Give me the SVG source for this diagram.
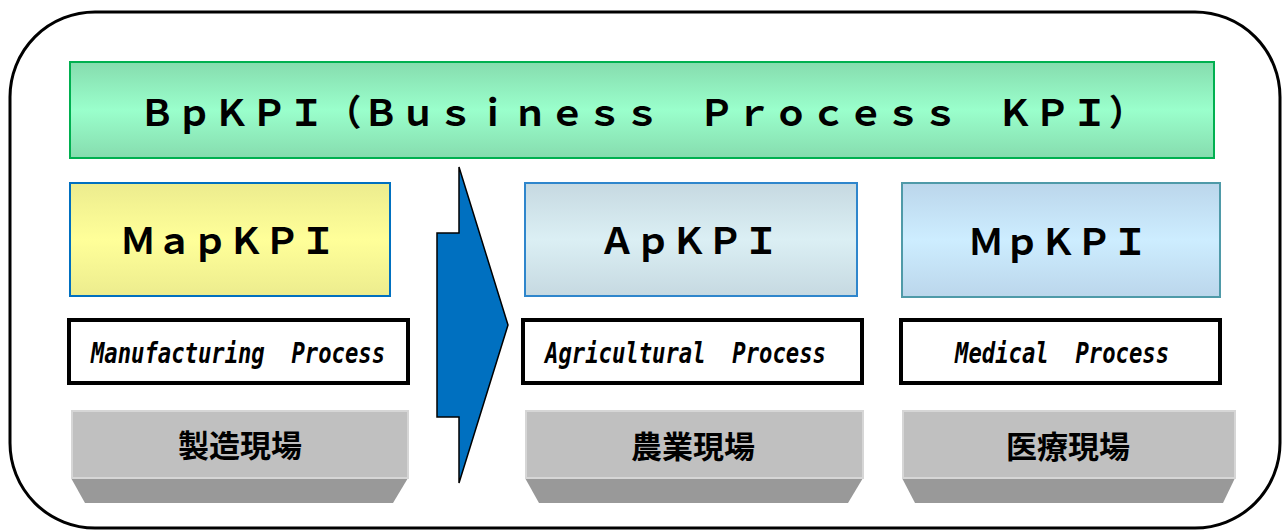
<svg xmlns="http://www.w3.org/2000/svg" width="1286" height="530" viewBox="0 0 1286 530">
<defs>
<linearGradient id="gGreen" x1="0" y1="0" x2="0" y2="1"><stop offset="0" stop-color="#86DCAE"/><stop offset="0.5" stop-color="#9AFFCC"/><stop offset="1" stop-color="#86DCAE"/></linearGradient>
<linearGradient id="gYellow" x1="0" y1="0" x2="0" y2="1"><stop offset="0" stop-color="#ECEC8E"/><stop offset="0.5" stop-color="#FFFF99"/><stop offset="1" stop-color="#ECEC8E"/></linearGradient>
<linearGradient id="gAgri" x1="0" y1="0" x2="0" y2="1"><stop offset="0" stop-color="#C6D9E1"/><stop offset="0.5" stop-color="#DBEFF4"/><stop offset="1" stop-color="#C6D9E1"/></linearGradient>
<linearGradient id="gMed" x1="0" y1="0" x2="0" y2="1"><stop offset="0" stop-color="#BBD6EB"/><stop offset="0.5" stop-color="#CDEDFF"/><stop offset="1" stop-color="#BBD6EB"/></linearGradient>
<style>
.kpi{font-family:"Noto Sans CJK JP","Noto Sans",sans-serif;font-weight:700;font-size:36px;fill:#000}
.proc{fill:#fff;stroke:#000;stroke-width:4}
.ptxt{font-family:"DejaVu Sans Mono","Liberation Mono",monospace;font-weight:700;font-style:italic;font-size:28px;fill:#000;white-space:pre}
.top{fill:#C0C0C0;stroke:#D6D6D6;stroke-width:2}
.bot{fill:#999999}
.jp{font-family:"Noto Sans CJK JP",sans-serif;font-weight:700;font-size:31px;fill:#000;text-anchor:middle}
</style>
</defs>
<rect id="frame" x="10" y="12" width="1270" height="516" rx="85" ry="85" fill="#fff" stroke="#000" stroke-width="3"/>
<g id="bpkpi">
<rect x="70" y="62" width="1144" height="96" fill="url(#gGreen)" stroke="#00B050" stroke-width="2"/>
<text class="kpi" x="139" y="126" letter-spacing="1.3">ＢｐＫＰＩ（Ｂｕｓｉｎｅｓｓ　Ｐｒｏｃｅｓｓ　ＫＰＩ）</text>
</g>
<g id="mapkpi">
<rect x="70" y="183" width="320" height="113" fill="url(#gYellow)" stroke="#0070C0" stroke-width="2"/>
<text class="kpi" x="228" y="254" text-anchor="middle">ＭａｐＫＰＩ</text>
</g>
<g id="apkpi">
<rect x="525" y="183" width="332" height="113" fill="url(#gAgri)" stroke="#2F86CC" stroke-width="2"/>
<text class="kpi" x="689" y="254" text-anchor="middle">ＡｐＫＰＩ</text>
</g>
<g id="mpkpi">
<rect x="902" y="183" width="318" height="114" fill="url(#gMed)" stroke="#4F9AA8" stroke-width="2"/>
<text class="kpi" x="1058" y="255" text-anchor="middle">ＭｐＫＰＩ</text>
</g>
<g id="manufacturing">
<rect class="proc" x="69" y="320" width="339" height="63"/>
<text class="ptxt" x="91" y="363" textLength="294" lengthAdjust="spacingAndGlyphs" xml:space="preserve">Manufacturing  Process</text>
</g>
<g id="agricultural">
<rect class="proc" x="523" y="320" width="339" height="63"/>
<text class="ptxt" x="545" y="363" textLength="281" lengthAdjust="spacingAndGlyphs" xml:space="preserve">Agricultural  Process</text>
</g>
<g id="medical">
<rect class="proc" x="901" y="320" width="319" height="63"/>
<text class="ptxt" x="955" y="363" textLength="214" lengthAdjust="spacingAndGlyphs" xml:space="preserve">Medical  Process</text>
</g>
<g id="site-manufacturing">
<polygon class="bot" points="71,478 408,478 393,503 85,503"/>
<rect class="top" x="72" y="411" width="336" height="67"/>
<text class="jp" x="240" y="457">製造現場</text>
</g>
<g id="site-agricultural">
<polygon class="bot" points="525,478 863,478 848,503 539,503"/>
<rect class="top" x="526" y="411" width="337" height="67"/>
<text class="jp" x="693" y="458">農業現場</text>
</g>
<g id="site-medical">
<polygon class="bot" points="902,478 1235,478 1223,503 915,503"/>
<rect class="top" x="903" y="411" width="332" height="67"/>
<text class="jp" x="1068" y="458">医療現場</text>
</g>
<g id="connectors">
<polygon points="459,167 508,325 459,483 459,417 437,417 437,233 459,233" fill="#0070C0" stroke="#000" stroke-width="1.5" stroke-linejoin="miter"/>
</g>
</svg>
